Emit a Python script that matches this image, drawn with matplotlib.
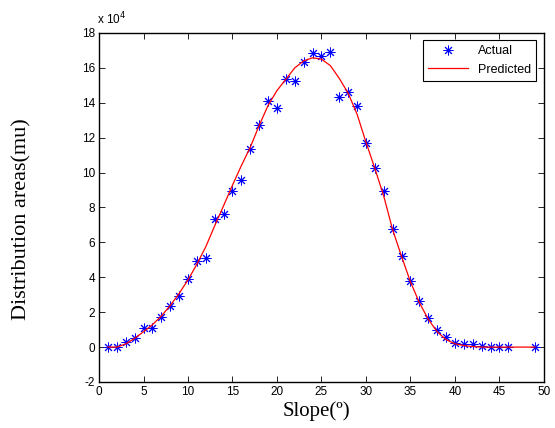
#!/usr/bin/env python3
# Actual vs predicted distribution areas over slope
import matplotlib
matplotlib.use('Agg')
import matplotlib.pyplot as plt

plt.rcParams['axes.unicode_minus'] = False

#- Observed points (x 10^4)
slope_actual = [1, 2, 3, 4, 5, 6, 7, 8, 9, 10, 11, 12, 13, 14, 15, 16, 17,
                18, 19, 20, 21, 22, 23, 24, 25, 26, 27, 28, 29, 30, 31, 32,
                33, 34, 35, 36, 37, 38, 39, 40, 41, 42, 43, 44, 45, 46, 49]
area_actual = [0.02, 0.0, 0.27, 0.5, 1.1, 1.1, 1.74, 2.37, 2.92, 3.9, 4.95,
               5.12, 7.32, 7.64, 8.96, 9.57, 11.35, 12.72, 14.1, 13.7, 15.34,
               15.26, 16.33, 16.83, 16.68, 16.9, 14.34, 14.63, 13.8, 11.7,
               10.24, 8.96, 6.74, 5.23, 3.78, 2.64, 1.64, 0.97, 0.59, 0.25,
               0.15, 0.15, 0.06, 0.02, 0.02, 0.02, 0.0]

#- Model curve (x 10^4)
slope_pred = list(range(1, 50))
area_pred = [0.0, 0.0, 0.18, 0.5, 0.88, 1.28, 1.78, 2.38, 3.07, 3.85, 4.75,
             5.75, 6.95, 8.1, 9.28, 10.4, 11.45, 12.7, 13.85, 14.7, 15.35,
             16.0, 16.4, 16.58, 16.5, 16.13, 15.4, 14.55, 13.35, 11.75,
             10.24, 8.65, 6.73, 5.2, 3.74, 2.55, 1.6, 0.88, 0.43, 0.19,
             0.09, 0.03, 0.0, 0.0, 0.0, 0.0, 0.0, 0.0, 0.0]

xticks = list(range(0, 51, 5))
yticks = list(range(-2, 19, 2))

fig = plt.figure(figsize=(5.55, 4.28), dpi=100)
ax = fig.add_axes([0.1784, 0.1075, 0.8016, 0.8154])

ax.plot(slope_actual, area_actual, linestyle='none', marker=(8, 2, 0),
        markersize=7, markeredgewidth=0.7, color='#0000ff', label='Actual')
ax.plot(slope_pred, area_pred, color='#ff0000', linewidth=0.9,
        label='Predicted')

ax.set_xlim(0, 50)
ax.set_ylim(-2, 18)
ax.set_xticks(xticks)
ax.set_yticks(yticks)
ax.tick_params(direction='in', top=True, right=True, length=4, width=0.6,
               labelsize=8.5, pad=3)
for lab in ax.get_xticklabels() + ax.get_yticklabels():
    lab.set_family('Liberation Sans')
for spine in ax.spines.values():
    spine.set_linewidth(1.0)

ax.text(-0.004, 1.016, 'x 10$^4$', transform=ax.transAxes, fontsize=8.5,
        family='Liberation Sans', ha='left', va='bottom')

ax.set_xlabel('Slope(º)', fontsize=15, family='Liberation Serif')
ax.set_ylabel('Distribution areas(mu)', fontsize=16,
              family='Liberation Serif')
ax.xaxis.set_label_coords(0.488, -0.054)
ax.yaxis.set_label_coords(-0.151, 0.467)

leg = ax.legend(loc='upper right', prop={'family': 'Liberation Sans',
                                         'size': 9},
                fancybox=False, framealpha=1, edgecolor='black',
                borderaxespad=0.6, handlelength=3.2, numpoints=1)
leg.get_frame().set_linewidth(0.8)

plt.savefig('out.png', dpi=100)
